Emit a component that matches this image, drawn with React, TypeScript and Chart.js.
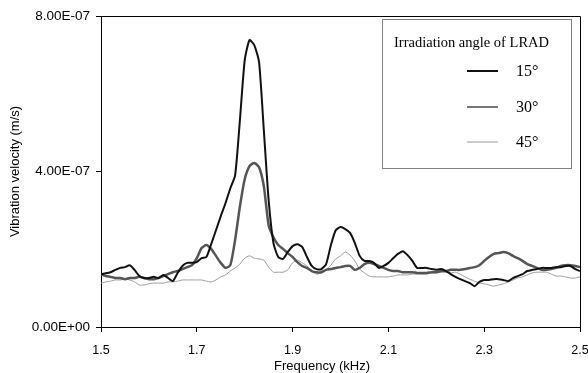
import React, { useEffect, useRef } from "react";
import { Chart, registerables } from "chart.js";

Chart.register(...registerables);

// Frequency (kHz)
const frequencyKHz = [
  1.50, 1.51, 1.52, 1.53, 1.54, 1.55, 1.56, 1.57, 1.58, 1.59,
  1.60, 1.61, 1.62, 1.63, 1.64, 1.65, 1.66, 1.67, 1.68, 1.69,
  1.70, 1.71, 1.72, 1.73, 1.74, 1.75, 1.76, 1.77, 1.78, 1.79,
  1.80, 1.81, 1.82, 1.83, 1.84, 1.85, 1.86, 1.87, 1.88, 1.89,
  1.90, 1.91, 1.92, 1.93, 1.94, 1.95, 1.96, 1.97, 1.98, 1.99,
  2.00, 2.01, 2.02, 2.03, 2.04, 2.05, 2.06, 2.07, 2.08, 2.09,
  2.10, 2.11, 2.12, 2.13, 2.14, 2.15, 2.16, 2.17, 2.18, 2.19,
  2.20, 2.21, 2.22, 2.23, 2.24, 2.25, 2.26, 2.27, 2.28, 2.29,
  2.30, 2.31, 2.32, 2.33, 2.34, 2.35, 2.36, 2.37, 2.38, 2.39,
  2.40, 2.41, 2.42, 2.43, 2.44, 2.45, 2.46, 2.47, 2.48, 2.49,
  2.50,
];

// Vibration velocity, in units of 1E-07 m/s
const velocity15 = [
  1.36, 1.38, 1.41, 1.47, 1.52, 1.54, 1.59, 1.47, 1.31, 1.26,
  1.26, 1.29, 1.26, 1.34, 1.26, 1.18, 1.39, 1.57, 1.65, 1.65,
  1.67, 1.77, 1.80, 2.13, 2.49, 2.85, 3.19, 3.57, 3.90, 5.32,
  6.86, 7.38, 7.25, 6.81, 5.05, 3.26, 2.16, 1.80, 1.75, 1.93,
  2.08, 2.13, 2.06, 1.80, 1.57, 1.49, 1.49, 1.62, 2.11, 2.49,
  2.57, 2.52, 2.42, 2.16, 1.83, 1.70, 1.70, 1.65, 1.52, 1.57,
  1.65, 1.77, 1.88, 1.95, 1.85, 1.70, 1.52, 1.52, 1.52, 1.49,
  1.47, 1.49, 1.44, 1.36, 1.29, 1.23, 1.18, 1.13, 1.05, 1.16,
  1.21, 1.21, 1.23, 1.23, 1.21, 1.18, 1.26, 1.31, 1.36, 1.44,
  1.47, 1.49, 1.52, 1.52, 1.52, 1.54, 1.54, 1.57, 1.57, 1.49,
  1.44,
];

const velocity30 = [
  1.36, 1.31, 1.29, 1.26, 1.26, 1.23, 1.26, 1.26, 1.29, 1.26,
  1.23, 1.23, 1.26, 1.31, 1.36, 1.41, 1.44, 1.49, 1.54, 1.59,
  1.77, 2.03, 2.11, 2.01, 1.83, 1.65, 1.52, 1.59, 2.24, 3.10,
  3.80, 4.14, 4.22, 4.11, 3.62, 2.62, 2.31, 2.11, 2.01, 1.90,
  1.80, 1.67, 1.57, 1.52, 1.44, 1.41, 1.41, 1.47, 1.49, 1.52,
  1.54, 1.57, 1.57, 1.47, 1.52, 1.62, 1.65, 1.62, 1.57, 1.52,
  1.47, 1.44, 1.44, 1.41, 1.41, 1.41, 1.39, 1.39, 1.39, 1.41,
  1.41, 1.44, 1.44, 1.47, 1.47, 1.47, 1.49, 1.52, 1.54, 1.59,
  1.70, 1.80, 1.88, 1.90, 1.93, 1.90, 1.83, 1.77, 1.70, 1.62,
  1.57, 1.52, 1.47, 1.47, 1.49, 1.52, 1.57, 1.59, 1.59, 1.57,
  1.54,
];

const velocity45 = [
  1.13, 1.16, 1.18, 1.21, 1.21, 1.23, 1.21, 1.16, 1.08, 1.08,
  1.11, 1.13, 1.13, 1.13, 1.16, 1.16, 1.18, 1.21, 1.21, 1.21,
  1.21, 1.21, 1.18, 1.16, 1.21, 1.29, 1.34, 1.44, 1.52, 1.62,
  1.77, 1.83, 1.77, 1.75, 1.72, 1.54, 1.41, 1.41, 1.41, 1.47,
  1.65, 1.72, 1.65, 1.57, 1.44, 1.36, 1.39, 1.47, 1.59, 1.75,
  1.83, 1.93, 1.85, 1.70, 1.49, 1.39, 1.31, 1.29, 1.29, 1.29,
  1.29, 1.31, 1.34, 1.34, 1.34, 1.36, 1.36, 1.36, 1.36, 1.39,
  1.39, 1.41, 1.41, 1.39, 1.41, 1.36, 1.29, 1.23, 1.18, 1.13,
  1.11, 1.08, 1.05, 1.08, 1.11, 1.16, 1.21, 1.26, 1.29, 1.34,
  1.39, 1.41, 1.41, 1.41, 1.36, 1.31, 1.31, 1.29, 1.26, 1.26,
  1.29,
];

const seriesLabels = ["15°", "30°", "45°"];
const legendTitle = "Irradiation angle of LRAD";
const xAxisTitle = "Frequency (kHz)";
const yAxisTitle = "Vibration velocity (m/s)";
const UNIT = 1e-7;

function formatSci(v: number): string {
  if (Math.abs(v) < 1e-20) return "0.00E+00";
  let exp = Math.floor(Math.log10(Math.abs(v)));
  let m = v / Math.pow(10, exp);
  if (Math.abs(m) >= 9.995) {
    exp += 1;
    m = m / 10;
  }
  const sign = exp < 0 ? "-" : "+";
  const e = String(Math.abs(exp)).padStart(2, "0");
  return `${m.toFixed(2)}E${sign}${e}`;
}

const framePlugin = {
  id: "frameAndLabels",
  afterDraw(chart: any) {
    const { ctx, chartArea } = chart;
    ctx.save();
    // top and right frame lines
    ctx.strokeStyle = "#000";
    ctx.lineWidth = 1;
    ctx.beginPath();
    ctx.moveTo(chartArea.left, chartArea.top + 0.5);
    ctx.lineTo(chartArea.right + 0.5, chartArea.top + 0.5);
    ctx.lineTo(chartArea.right + 0.5, chartArea.bottom);
    ctx.stroke();

    // x axis title
    ctx.fillStyle = "#000";
    ctx.font = '13px "Liberation Sans"';
    ctx.textAlign = "center";
    ctx.textBaseline = "middle";
    ctx.fillText(xAxisTitle, 322, 366);

    // legend box
    const bx = 382.5, by = 19.5, bw = 189, bh = 149;
    ctx.fillStyle = "#fff";
    ctx.fillRect(bx, by, bw, bh);
    ctx.strokeStyle = "#808080";
    ctx.strokeRect(bx, by, bw, bh);
    ctx.fillStyle = "#000";
    ctx.textAlign = "left";
    ctx.font = '14.5px "Liberation Serif"';
    ctx.fillText(legendTitle, 394, 43);
    const rows = [71, 107, 142];
    const legendWidths = [2, 1.6, 1];
    chart.data.datasets.forEach((ds: any, i: number) => {
      const y = rows[i];
      ctx.strokeStyle = ds.borderColor;
      ctx.lineWidth = legendWidths[i];
      ctx.beginPath();
      ctx.moveTo(467, y);
      ctx.lineTo(498, y);
      ctx.stroke();
      ctx.fillStyle = "#000";
      ctx.font = '16px "Liberation Serif"';
      ctx.fillText(ds.label, 516, y + 1);
    });
    ctx.restore();
  },
};

export default function App() {
  const canvasRef = useRef<HTMLCanvasElement | null>(null);

  useEffect(() => {
    if (!canvasRef.current) return;
    Chart.defaults.font.family = '"Liberation Sans", Arial, sans-serif';
    const toPoints = (arr: number[]) =>
      frequencyKHz.map((f, i) => ({ x: f, y: arr[i] * UNIT }));

    const chart = new Chart(canvasRef.current, {
      type: "line",
      data: {
        datasets: [
          {
            label: seriesLabels[0],
            data: toPoints(velocity15),
            borderColor: "#111111",
            borderWidth: 2,
            pointRadius: 0,
            tension: 0.2,
          },
          {
            label: seriesLabels[1],
            data: toPoints(velocity30),
            borderColor: "#555555",
            borderWidth: 2.5,
            pointRadius: 0,
            tension: 0.2,
          },
          {
            label: seriesLabels[2],
            data: toPoints(velocity45),
            borderColor: "#9a9a9a",
            borderWidth: 1,
            pointRadius: 0,
            tension: 0.2,
          },
        ],
      },
      options: {
        responsive: false,
        animation: false,
        layout: { padding: { top: 16, right: 8, left: 0, bottom: 0 } },
        plugins: {
          legend: { display: false },
          tooltip: { enabled: false },
        },
        scales: {
          x: {
            type: "linear",
            min: 1.5,
            max: 2.5,
            afterFit: (s: any) => {
              s.height = 46;
              s.paddingLeft = 0;
              s.paddingRight = 0;
            },
            ticks: {
              stepSize: 0.2,
              color: "#000",
              font: { size: 12.5 },
              padding: 11,
              maxRotation: 0,
              callback: (v: any) => Number(v).toFixed(1),
            },
            grid: {
              display: true,
              drawOnChartArea: false,
              drawTicks: true,
              tickLength: 5,
              color: "#000",
            },
            border: { display: true, color: "#000", width: 1 },
          },
          y: {
            type: "linear",
            min: 0,
            max: 8 * UNIT,
            afterFit: (s: any) => {
              s.width = 101;
              s.paddingTop = 0;
              s.paddingBottom = 0;
            },
            ticks: {
              stepSize: 4 * UNIT,
              color: "#000",
              font: { size: 13.5 },
              padding: 6,
              callback: (v: any) => formatSci(Number(v)),
            },
            grid: {
              display: true,
              drawOnChartArea: false,
              drawTicks: true,
              tickLength: 5,
              color: "#000",
            },
            border: { display: true, color: "#000", width: 1 },
            title: {
              display: true,
              text: yAxisTitle,
              color: "#000",
              font: { size: 13 },
              padding: { top: 8, bottom: 0 },
            },
          },
        },
      },
      plugins: [framePlugin],
    });
    return () => chart.destroy();
  }, []);

  return (
    <div style={{ position: "absolute", left: 0, top: 0, width: 588, height: 373, background: "#fff" }}>
      <canvas ref={canvasRef} width={588} height={373} />
    </div>
  );
}
